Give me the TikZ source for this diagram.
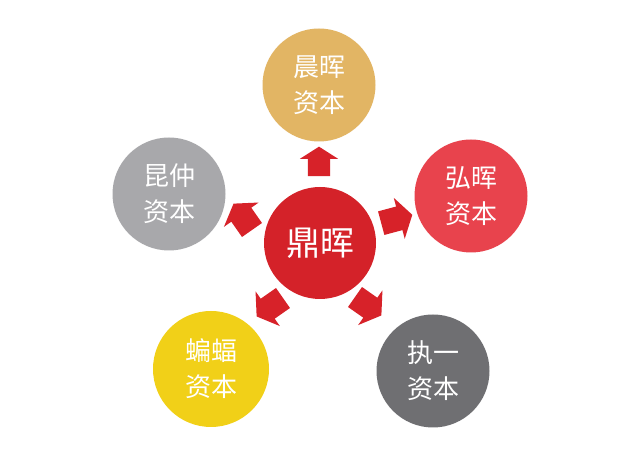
\documentclass[tikz,border=0pt]{standalone}
\usepackage{fontspec}
\newfontfamily\cjk{Noto Sans CJK SC}
\usetikzlibrary{shapes.arrows}
\definecolor{cred}{HTML}{D42229}
\definecolor{ctan}{HTML}{E2B564}
\definecolor{cpink}{HTML}{E8434D}
\definecolor{clgray}{HTML}{A8A8AB}
\definecolor{cyellow}{HTML}{F1D018}
\definecolor{cdgray}{HTML}{6F6F72}
\definecolor{carrow}{HTML}{D72229}
\tikzset{
  firm/.style={circle, fill=#1, minimum size=113pt, inner sep=0pt, text=white,
    font=\cjk\fontsize{26}{36}\selectfont, align=center},
  hub/.style={circle, fill=cred, minimum size=112pt, inner sep=0pt, text=white,
    font=\cjk\fontsize{34}{40}\selectfont},
  blockarrow/.style={single arrow, fill=carrow, draw=none, inner sep=11pt,
    single arrow head extend=8pt, single arrow tip angle=115, minimum height=25pt,
    rotate=#1},
  bigarrow/.style={blockarrow=#1, inner sep=12pt, single arrow head extend=9pt,
    minimum height=29pt}
}
\begin{document}
\begin{tikzpicture}[x=1pt,y=1pt]
\useasboundingbox (0,0) rectangle (640,460);
\fill[white] (0,0) rectangle (640,460);
\node[hub] (center) at (320,217) {鼎晖};
\node[firm=ctan] (top) at (319,375) {晨晖\\资本};
\node[firm=cpink] (right) at (471,264) {弘晖\\资本};
\node[firm=clgray] (left) at (169,266) {昆仲\\资本};
\node[firm=cyellow, minimum size=116pt] (bl) at (211,91) {蝙蝠\\资本};
\node[firm=cdgray] (br) at (433,89) {执一\\资本};
\node[blockarrow=90] (a1) at (319,295) {};
\node[bigarrow=15] (a2) at (393,240) {};
\node[bigarrow=125] (a3) at (245,240) {};
\node[bigarrow=215] (a4) at (273,155) {};
\node[bigarrow=-35] (a5) at (365,156) {};
\end{tikzpicture}
\end{document}
